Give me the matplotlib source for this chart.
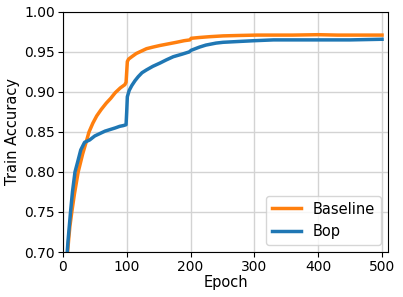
import matplotlib
matplotlib.use("Agg")
import matplotlib.pyplot as plt

# values
base_epoch = [5, 6, 9, 11, 14, 18, 24, 31, 36, 41, 47, 53, 60, 68, 75, 82, 90, 97, 99,
              100, 101, 103, 108, 115, 123, 131, 141, 152, 165, 178, 190, 199, 201,
              214, 230, 251, 275, 304, 330, 360, 400, 430, 460, 480, 500]
base_acc = [0.670, 0.685, 0.715, 0.732, 0.750, 0.772, 0.800, 0.8225, 0.836, 0.850,
            0.861, 0.870, 0.878, 0.886, 0.892, 0.899, 0.905, 0.909, 0.912,
            0.925, 0.938, 0.941, 0.944, 0.948, 0.951, 0.954, 0.956, 0.958, 0.960,
            0.962, 0.964, 0.965, 0.967, 0.968, 0.969, 0.970, 0.9705, 0.971, 0.971,
            0.971, 0.9715, 0.971, 0.971, 0.971, 0.971]

bop_epoch = [5, 8, 12, 15, 19, 23, 28, 34, 42, 50, 58, 66, 74, 82, 89, 95, 99,
             100, 101, 104, 108, 113, 118, 124, 131, 141, 152, 162, 173, 186, 198,
             201, 214, 224, 240, 251, 275, 300, 330, 356, 400, 450, 500]
bop_acc = [0.680, 0.713, 0.750, 0.775, 0.800, 0.812, 0.8275, 0.837, 0.840, 0.845,
           0.848, 0.851, 0.853, 0.855, 0.857, 0.858, 0.859,
           0.875, 0.894, 0.902, 0.908, 0.914, 0.919, 0.924, 0.9275, 0.932, 0.936,
           0.940, 0.944, 0.947, 0.950, 0.952, 0.956, 0.9585, 0.961, 0.962, 0.963,
           0.964, 0.965, 0.965, 0.965, 0.965, 0.9658]

x_ticks = [0, 100, 200, 300, 400, 500]
y_ticks = [0.70, 0.75, 0.80, 0.85, 0.90, 0.95, 1.00]

fig = plt.figure(figsize=(4.03, 2.97), dpi=100)
ax = fig.add_axes([0.156, 0.1515, 0.807, 0.8085])

ax.plot(base_epoch, base_acc, color="#ff7f0e", lw=2.5, label="Baseline")
ax.plot(bop_epoch, bop_acc, color="#1f77b4", lw=2.5, label="Bop")

ax.set_xlim(0, 509.5)
ax.set_ylim(0.70, 1.00)
ax.set_xticks(x_ticks)
ax.set_yticks(y_ticks)
ax.set_yticklabels(["%.2f" % v for v in y_ticks])
ax.tick_params(labelsize=10, length=3.5, pad=2)
ax.grid(True, color="#d3d3d3", lw=1)
ax.set_axisbelow(True)

ax.set_xlabel("Epoch", fontsize=10.5, labelpad=1)
ax.set_ylabel("Train Accuracy", fontsize=10.5, labelpad=3)
ax.legend(loc="lower right", fontsize=10.5)

fig.savefig("out.png", dpi=100)
